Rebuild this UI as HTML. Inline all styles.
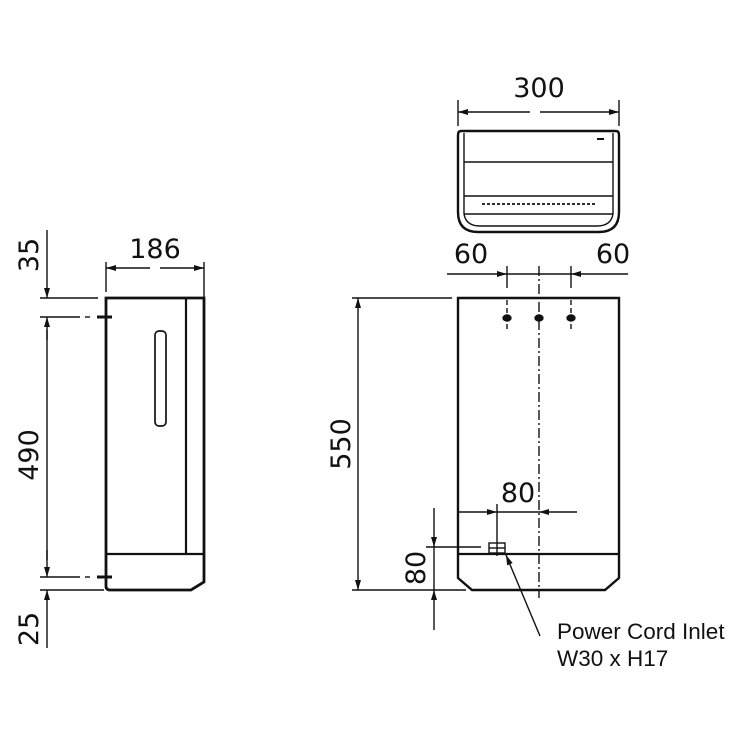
<!DOCTYPE html>
<html><head><meta charset="utf-8"><style>
html,body{margin:0;padding:0;background:#fff;}
svg{display:block;}
.d{font-family:"DejaVu Sans","Liberation Sans",sans-serif;font-size:27px;fill:#111;}
.c{font-family:"Liberation Sans",sans-serif;font-size:22.5px;fill:#111;}
</style></head><body>
<svg width="740" height="740" viewBox="0 0 740 740" xmlns="http://www.w3.org/2000/svg">
<defs>
<marker id="a" viewBox="0 0 10 6" refX="10" refY="3" markerWidth="11" markerHeight="6" orient="auto" markerUnits="userSpaceOnUse">
<path d="M0,0 L10,3 L0,6 z" fill="#111"/></marker>
</defs>
<g stroke="#111" stroke-width="1.4" fill="none">
<!-- LEFT VIEW -->
<path d="M106,298 H204 V582 L191,590 H110 Q106,590 106,586 Z" stroke-width="2.8"/>
<line x1="186" y1="298" x2="186" y2="554" stroke-width="2.2"/>
<line x1="106" y1="554" x2="204" y2="554" stroke-width="2.2"/>
<rect x="155" y="331" width="11" height="95" rx="4" stroke-width="1.7"/>
<!-- 186 dim -->
<line x1="106" y1="262" x2="106" y2="292"/>
<line x1="204" y1="262" x2="204" y2="298"/>
<line x1="150" y1="268" x2="106" y2="268" marker-end="url(#a)"/>
<line x1="160" y1="268" x2="204" y2="268" marker-end="url(#a)"/>
<!-- vertical dims left -->
<line x1="40" y1="298" x2="98" y2="298"/>
<line x1="40" y1="317" x2="80" y2="317"/>
<line x1="85" y1="317" x2="90" y2="317"/>
<line x1="40" y1="577" x2="80" y2="577"/>
<line x1="85" y1="577" x2="90" y2="577"/>
<line x1="40" y1="590" x2="104" y2="590"/>
<line x1="47" y1="230" x2="47" y2="298" marker-end="url(#a)"/>
<line x1="47" y1="340" x2="47" y2="317" marker-end="url(#a)"/>
<line x1="47" y1="330" x2="47" y2="560"/>
<line x1="47" y1="550" x2="47" y2="577" marker-end="url(#a)"/>
<line x1="47" y1="648" x2="47" y2="590" marker-end="url(#a)"/>
<line x1="97" y1="317" x2="112" y2="317" stroke-width="3"/>
<line x1="97" y1="577" x2="112" y2="577" stroke-width="3"/>

<!-- TOP VIEW -->
<path d="M461,131 H616 Q619,131 619,135 V212 Q619,232 599,232 H478 Q458,232 458,212 V135 Q458,131 461,131 Z" stroke-width="2.4"/>
<line x1="464" y1="133" x2="464" y2="214"/>
<line x1="613" y1="133" x2="613" y2="214"/>
<line x1="464" y1="162" x2="613" y2="162"/>
<line x1="464" y1="196" x2="613" y2="196"/>
<line x1="464" y1="214" x2="613" y2="214"/>
<path d="M464,214 Q466,226 480,226 H597 Q611,226 613,214"/>
<line x1="482" y1="204" x2="596" y2="204" stroke-dasharray="3,2" stroke-width="1.7"/>
<line x1="597" y1="139" x2="604" y2="139" stroke-width="2"/>
<!-- 300 dim -->
<line x1="458" y1="100" x2="458" y2="126"/>
<line x1="619" y1="100" x2="619" y2="126"/>
<line x1="530" y1="112" x2="458" y2="112" marker-end="url(#a)"/>
<line x1="540" y1="112" x2="619" y2="112" marker-end="url(#a)"/>

<!-- FRONT VIEW -->
<path d="M458,298 H619 V578 L605,590 H472 L458,578 Z" stroke-width="2.4"/>
<line x1="458" y1="554" x2="619" y2="554" stroke-width="2.2"/>
<line x1="539" y1="266" x2="539" y2="598" stroke-dasharray="10,3,2,3"/>
<line x1="507" y1="266" x2="507" y2="288"/>
<line x1="571" y1="266" x2="571" y2="288"/>
<line x1="507" y1="300" x2="507" y2="330" stroke-dasharray="5,3"/>
<line x1="571" y1="300" x2="571" y2="330" stroke-dasharray="5,3"/>
<line x1="447" y1="274" x2="507" y2="274" marker-end="url(#a)"/>
<line x1="628" y1="274" x2="571" y2="274" marker-end="url(#a)"/>
<line x1="507" y1="274" x2="571" y2="274"/>
<ellipse cx="507" cy="318" rx="4" ry="3" fill="#111"/>
<ellipse cx="539" cy="318" rx="4" ry="3" fill="#111"/>
<ellipse cx="571" cy="318" rx="4" ry="3" fill="#111"/>
<!-- 550 -->
<line x1="352" y1="298" x2="452" y2="298"/>
<line x1="352" y1="590" x2="466" y2="590"/>
<line x1="358" y1="440" x2="358" y2="298" marker-end="url(#a)"/>
<line x1="358" y1="440" x2="358" y2="590" marker-end="url(#a)"/>
<!-- 80 horiz -->
<line x1="497" y1="504" x2="497" y2="556"/>
<line x1="458" y1="512" x2="497" y2="512" marker-end="url(#a)"/>
<line x1="577" y1="512" x2="539" y2="512" marker-end="url(#a)"/>
<line x1="497" y1="512" x2="539" y2="512"/>
<!-- 80 vert -->
<line x1="426" y1="547" x2="481" y2="547"/>
<line x1="434" y1="508" x2="434" y2="547" marker-end="url(#a)"/>
<line x1="434" y1="630" x2="434" y2="590" marker-end="url(#a)"/>
<line x1="434" y1="547" x2="434" y2="590"/>
<!-- inlet -->
<rect x="489" y="543" width="16" height="10" stroke-width="1.4"/>
<line x1="489" y1="548" x2="505" y2="548"/>
<line x1="540" y1="636" x2="506" y2="555" marker-end="url(#a)"/>
</g>

<text class="d" x="155" y="258" text-anchor="middle">186</text>
<text class="d" x="539" y="97" text-anchor="middle">300</text>
<text class="d" x="471" y="263" text-anchor="middle">60</text>
<text class="d" x="613" y="263" text-anchor="middle">60</text>
<text class="d" x="518" y="502" text-anchor="middle">80</text>
<text class="d" transform="translate(38,255) rotate(-90)" text-anchor="middle">35</text>
<text class="d" transform="translate(38,455) rotate(-90)" text-anchor="middle">490</text>
<text class="d" transform="translate(38,629) rotate(-90)" text-anchor="middle">25</text>
<text class="d" transform="translate(350,444) rotate(-90)" text-anchor="middle">550</text>
<text class="d" transform="translate(425,568) rotate(-90)" text-anchor="middle">80</text>
<text class="c" x="557" y="639">Power Cord Inlet</text>
<text class="c" x="557" y="666">W30 x H17</text>
</svg>
</body></html>
